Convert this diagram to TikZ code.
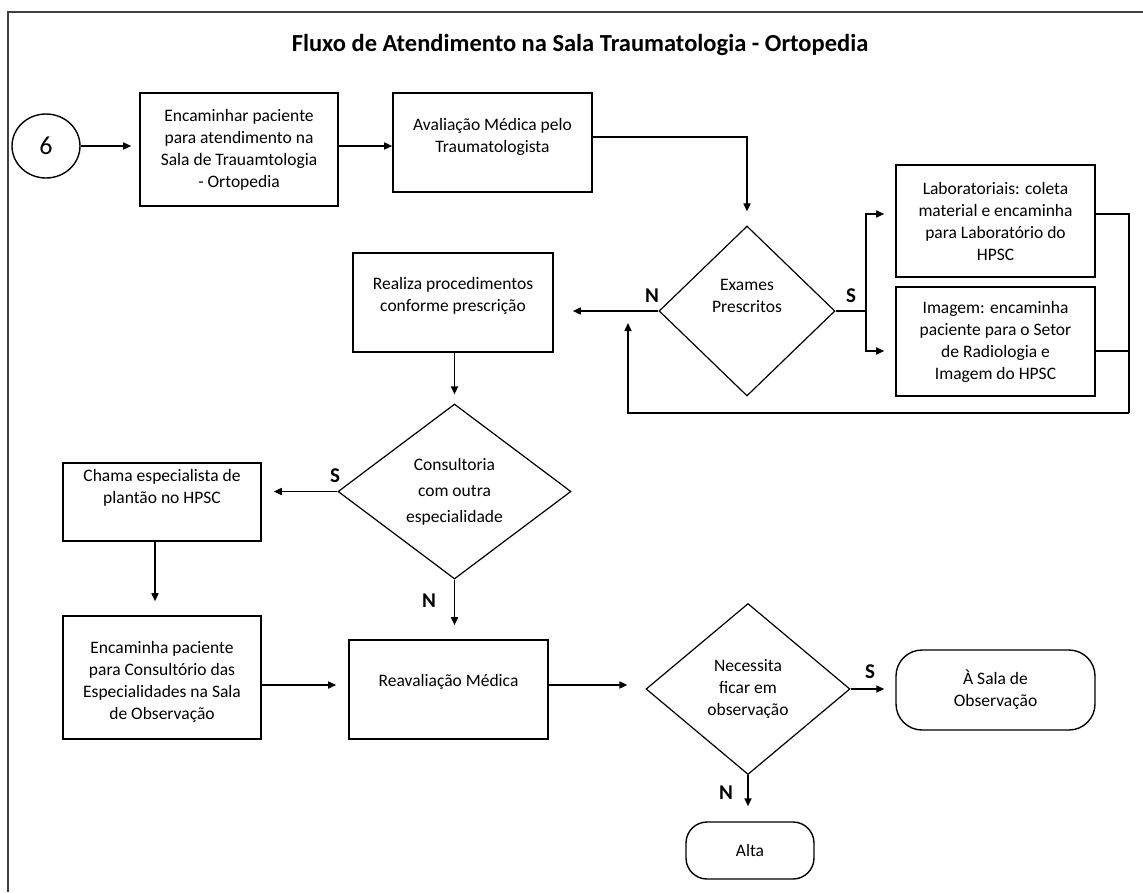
\documentclass[tikz,border=0pt]{standalone}
\usepackage{fontspec}
\setmainfont{Carlito}
\usetikzlibrary{shapes.geometric,arrows.meta}

\tikzset{
  frame/.style={draw=black!75, line width=1.4pt},
  box/.style={draw, line width=1.6pt, rectangle, inner sep=0pt, align=center},
  txt/.style={inner sep=0pt, align=center},
  dia/.style={draw, line width=1.2pt, diamond, inner sep=0pt, align=center},
  term/.style={draw, line width=1.4pt, rectangle, inner sep=0pt, align=center},
  conn/.style={line width=1.6pt},
  arr/.style={conn, -{Triangle[length=8pt,width=7pt]}},
  yn/.style={font=\fontsize{21}{24}\selectfont\bfseries, inner sep=0pt},
}

\begin{document}
\begin{tikzpicture}[x=1pt,y=-1pt,font=\fontsize{17.5}{22}\selectfont]
\useasboundingbox (0,0) rectangle (1143,892);

% page frame (open at right and bottom)
\draw[frame] (8,892) -- (8,12) -- (1143,12);

% title
\node[txt, font=\fontsize{24.5}{28}\selectfont\bfseries] (title) at (580,45)
  {Fluxo de Atendimento na Sala Traumatologia - Ortopedia};

% start connector
\node[draw, line width=1.4pt, ellipse, minimum width=68pt, minimum height=64pt,
      inner sep=0pt, font=\fontsize{26}{28}\selectfont] (c6) at (46,146) {6};

% process boxes
\node[box, minimum width=198pt, minimum height=113pt] (b1) at (239,149.5)
  {Encaminhar paciente\\para atendimento na\\Sala de Trauamtologia\\- Ortopedia};
\node[box, minimum width=199pt, minimum height=99pt] (b2) at (492.5,142.5) {};
\node[txt] (b2t) at (492.5,137) {Avaliação Médica pelo\\Traumatologista};

\node[dia, minimum width=176pt, minimum height=170pt] (dex) at (747,311) {};
\node[txt] (dext) at (747,296) {Exames\\Prescritos};

\node[box, minimum width=199pt, minimum height=112pt] (lab) at (995.5,221)
  {Laboratoriais: coleta\\material e encaminha\\para Laboratório do\\HPSC};
\node[box, minimum width=199pt, minimum height=109pt] (img) at (995.5,341.5)
  {Imagem: encaminha\\paciente para o Setor\\de Radiologia e\\Imagem do HPSC};

\node[box, minimum width=200pt, minimum height=99pt] (real) at (453,302.5) {};
\node[txt] (realt) at (453,296) {Realiza procedimentos\\conforme prescrição};

\node[dia, minimum width=233pt, minimum height=175pt,
      font=\fontsize{17.5}{26}\selectfont] (dco) at (454.5,491.5)
  {Consultoria\\com outra\\especialidade};

\node[box, minimum width=198pt, minimum height=78pt] (cha) at (162,502) {};
\node[txt] (chat) at (162,487.5) {Chama especialista de\\plantão no HPSC};

\node[box, minimum width=198pt, minimum height=123pt] (enc) at (162,677.5) {};
\node[txt] (enct) at (162,682) {Encaminha paciente\\para Consultório das\\Especialidades na Sala\\de Observação};

\node[box, minimum width=199pt, minimum height=99pt] (rea) at (448.5,689.5) {};
\node[txt] (reat) at (448.5,682) {Reavaliação Médica};

\node[dia, minimum width=204pt, minimum height=171pt] (nec) at (748,689)
  {Necessita\\ficar em\\observação};

\node[term, rounded corners=26pt, minimum width=199pt, minimum height=80pt] (sala) at (995.5,690)
  {À Sala de\\Observação};
\node[term, rounded corners=21pt, minimum width=128pt, minimum height=57pt] (alta) at (750,850.5)
  {Alta};

% feedback route corners
\coordinate (fbR) at (1129,413);
\coordinate (fbL) at (628,413);
\coordinate (fbEnd) at (628,323);
\coordinate (fork) at (866,311);
\coordinate (row) at (0,685);

% connectors
\draw[arr, shorten >=8pt] (c6.east) -- (b1.west |- c6.east);
\draw[arr] (b1.east |- c6.east) -- (b2.west |- c6.east);
\draw[arr, shorten >=14pt] ([yshift=5.5pt]b2.east) -| (dex.north);
\draw[arr, shorten >=19pt] (dex.west) -- (dex.west -| real.east);
\draw[conn] (dex.east) -- (fork);
\draw[arr, shorten >=11pt] (fork) |- ([yshift=7pt]lab.west);
\draw[arr, shorten >=11pt] (fork) |- ([yshift=-9.5pt]img.west);
\draw[conn] ([yshift=7pt]lab.east) -| (fbR);
\draw[conn] ([yshift=-9.5pt]img.east) -- ([yshift=-9.5pt]img.east -| fbR);
\draw[arr] (fbR) -- (fbL) -- (fbEnd);
\draw[arr, shorten >=9pt] (real.south -| dco.north) -- (dco.north);
\draw[arr, shorten >=12pt] (dco.west) -- (dco.west -| cha.east);
\draw[arr, shorten >=14pt] ([xshift=-7pt]cha.south) -- ([xshift=-7pt]enc.north);
\draw[arr, shorten >=12pt] (enc.east |- row) -- (rea.west |- row);
\draw[arr, shorten >=14pt] (dco.south) -- (dco.south |- rea.north);
\draw[arr, shorten >=18pt] (rea.east |- row) -- (nec.west |- row);
\draw[arr, shorten >=11pt] (nec.east) -- (nec.east -| sala.west);
\draw[arr, shorten >=15pt] (nec.south) -- (nec.south |- alta.north);

% branch labels
\node[yn] (n1) at (652,296) {N};
\node[yn] (s1) at (851,296) {S};
\node[yn] (s2) at (335,476) {S};
\node[yn] (n2) at (429,601) {N};
\node[yn] (s3) at (870,672) {S};
\node[yn] (n3) at (726,793) {N};
\end{tikzpicture}
\end{document}
